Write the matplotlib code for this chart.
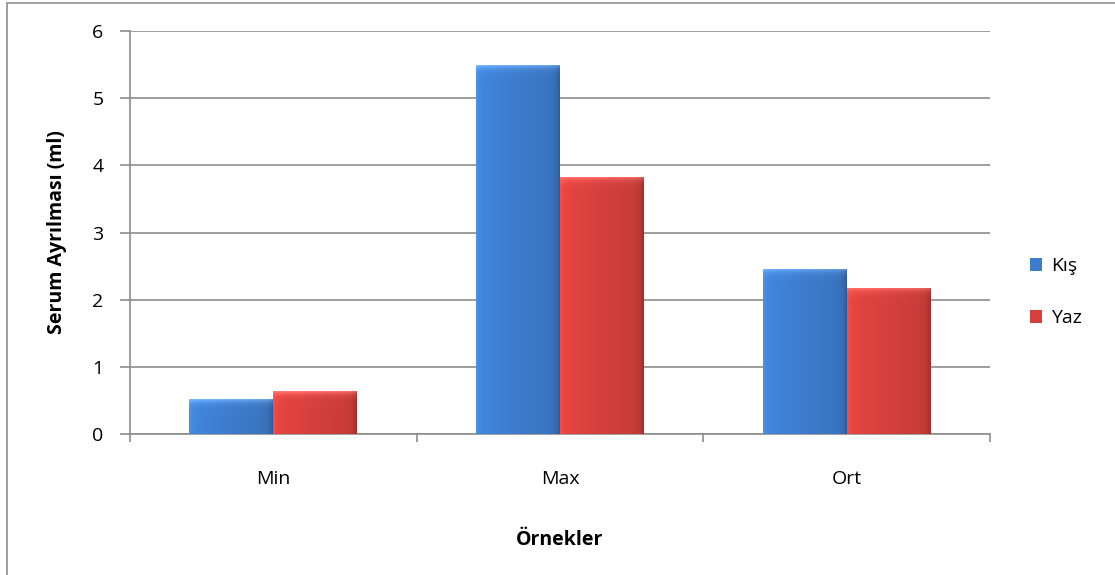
import numpy as np
import matplotlib
matplotlib.use("Agg")
import matplotlib.pyplot as plt
from matplotlib.colors import to_rgb
from matplotlib.patches import Rectangle

categories = ["Min", "Max", "Ort"]
kis = [0.52, 5.5, 2.46]
yaz = [0.64, 3.83, 2.18]
series_names = ["Kış", "Yaz"]
colors = ["#3d7ccc", "#d5403c"]

plt.rcParams['font.family'] = ['Open Sans', 'DejaVu Sans']


def shade_bar(ax, patch, color):
    # bevelled look: lighter left/top, darker right/bottom edges
    x0, y0 = patch.get_x(), patch.get_y()
    w, h = patch.get_width(), patch.get_height()
    nx, ny = 120, 200
    base = np.array(to_rgb(color))
    xs = np.linspace(0, 1, nx)
    f = 1.08 - 0.16 * xs
    f = f + 0.10 * np.exp(-xs / 0.04) - 0.18 * np.exp(-(1 - xs) / 0.04)
    img = np.ones((ny, nx, 3)) * base
    img = img * f[None, :, None]
    bar_px = max(h * 67.2, 1)
    ys = np.linspace(0, 1, ny) * bar_px  # distance from top in px
    top = 0.22 * np.exp(-ys / 3.0)
    img = img + top[:, None, None]
    img = np.clip(img, 0, 1)
    im = ax.imshow(img, extent=[x0, x0 + w, y0, y0 + h], origin="upper",
                   aspect="auto", zorder=3, interpolation="bilinear")
    im.set_clip_path(patch)


fig = plt.figure(figsize=(11.15, 5.75), dpi=100)
fig.patches.append(Rectangle((7 / 1115, -0.02), 1.1, 1 - 3 / 575 + 0.02,
                             transform=fig.transFigure, fill=False,
                             edgecolor="#8c8c8c", linewidth=1.2))
ax = fig.add_axes([130 / 1115, 1 - 434 / 575, 860 / 1115, 403 / 575])

x = np.arange(len(categories))
width = 0.293
bars1 = ax.bar(x - width / 2, kis, width, color=colors[0], zorder=2, label=series_names[0])
bars2 = ax.bar(x + width / 2, yaz, width, color=colors[1], zorder=2, label=series_names[1])
for b in bars1:
    shade_bar(ax, b, colors[0])
for b in bars2:
    shade_bar(ax, b, colors[1])

ax.set_xlim(-0.5, 2.5)
ax.set_ylim(0, 6)
ax.set_yticks(range(0, 7))
ax.yaxis.grid(True, color="#8c8c8c", linewidth=1.2, zorder=1)
ax.set_axisbelow(True)

ax.set_xticks(x)
ax.set_xticklabels(categories, fontsize=14)
ax.set_xticks([-0.5, 0.5, 1.5, 2.5], minor=True)
ax.tick_params(axis="x", which="major", length=0, pad=26)
ax.tick_params(axis="x", which="minor", length=6, color="#8c8c8c", width=1.2)
ax.tick_params(axis="y", length=7, color="#8c8c8c", width=1.2, labelsize=14, pad=12)

for side in ["top", "right"]:
    ax.spines[side].set_visible(False)
for side in ["left", "bottom"]:
    ax.spines[side].set_color("#8c8c8c")
    ax.spines[side].set_linewidth(1.2)

ax.set_ylabel("Serum Ayrılması (ml)", fontsize=14, fontweight="bold", labelpad=18)
ax.set_xlabel("Örnekler", fontsize=14, fontweight="bold", labelpad=30)

handles = [Rectangle((0, 0), 1, 1, facecolor=c, edgecolor="none") for c in colors]
fig.legend(handles, series_names, loc="center left", bbox_to_anchor=(1012 / 1115, 1 - 292 / 575),
           frameon=False, fontsize=14, handlelength=0.65, handleheight=0.65,
           labelspacing=1.75, handletextpad=0.45)

fig.savefig("out.png", dpi=100)
